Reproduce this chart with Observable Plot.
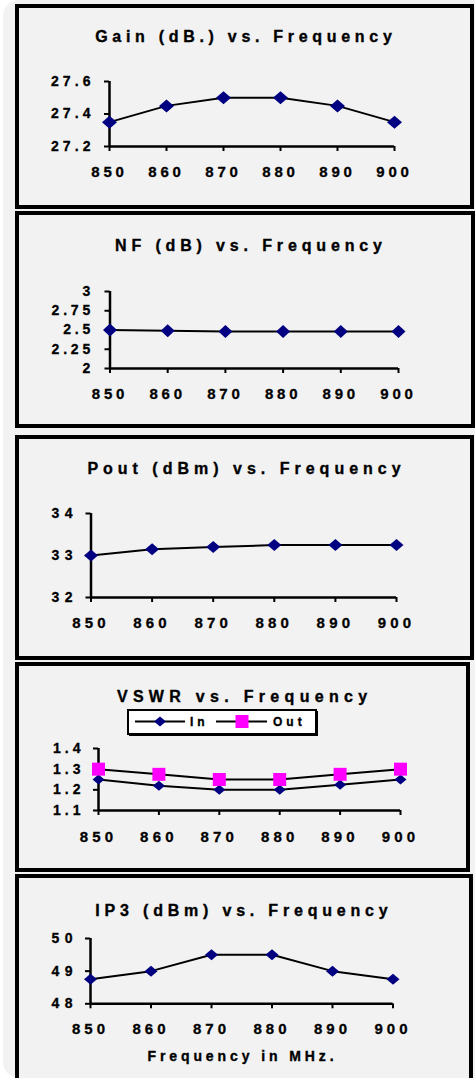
<!DOCTYPE html>
<html><head><meta charset="utf-8">
<script src="https://cdn.jsdelivr.net/npm/d3@7"></script>
<script src="https://cdn.jsdelivr.net/npm/@observablehq/plot@0.6"></script>
<style>
html,body{margin:0;padding:0;background:#fff;width:475px;height:1078px;overflow:hidden;font-family:"Liberation Sans",Arial,sans-serif;}
#page{position:relative;width:475px;height:1078px;overflow:hidden;}
#bg{position:absolute;left:3px;top:0;width:520px;height:1078px;border-radius:16px;background:#f2f2f2;}
.panel{position:absolute;box-sizing:border-box;border:4px solid #000;background:#f2f2f2;}
.title{position:absolute;text-align:center;font-weight:bold;color:#000;white-space:nowrap;-webkit-text-stroke:0.35px #000;}
.chart{position:absolute;left:0;}
.chart text{stroke:#000;stroke-width:0.3px;}
</style>
</head><body><div id="page"><div id="bg"></div></div>
<script>
// ---- data ----
const freqs = [850, 860, 870, 880, 890, 900];
const gain = [27.35, 27.45, 27.5, 27.5, 27.45, 27.35];
const nf = [2.5, 2.49, 2.48, 2.48, 2.48, 2.48];
const pout = [33.0, 33.15, 33.2, 33.25, 33.25, 33.25];
const vswrIn = [1.25, 1.22, 1.2, 1.2, 1.225, 1.25];
const vswrOut = [1.3, 1.275, 1.25, 1.25, 1.275, 1.3];
const ip3 = [48.75, 49, 49.5, 49.5, 49, 48.75];

const gainTicks = [27.2, 27.4, 27.6];
const nfTicks = [2, 2.25, 2.5, 2.75, 3];
const poutTicks = [32, 33, 34];
const vswrTicks = [1.1, 1.2, 1.3, 1.4];
const ip3Ticks = [48, 49, 50];

const titles = ["Gain (dB.) vs. Frequency", "NF (dB) vs. Frequency", "Pout (dBm) vs. Frequency", "VSWR vs. Frequency", "IP3 (dBm) vs. Frequency"];
const xTitle = "Frequency in MHz.";
const legendLabels = ["In", "Out"];

const NAVY = "#000080", MAGENTA = "#ff00ff";
const FONT = '"Liberation Sans", Arial, sans-serif';

const page = document.getElementById("page");

const diamond = (w, h) => ({draw(ctx) { ctx.moveTo(0, -h / 2); ctx.lineTo(w / 2, 0); ctx.lineTo(0, h / 2); ctx.lineTo(-w / 2, 0); ctx.closePath(); }});
const square = (s) => ({draw(ctx) { ctx.rect(-s / 2, -s / 2, s, s); }});

function panel(left, top, width, height) {
  const d = document.createElement("div");
  d.className = "panel";
  Object.assign(d.style, {left: left + "px", top: top + "px", width: width + "px", height: height + "px"});
  page.appendChild(d);
}

function text(str, cx, cy, fs, ls) {
  const d = document.createElement("div");
  d.className = "title";
  d.textContent = str;
  Object.assign(d.style, {left: (cx + ls / 2 - 250) + "px", width: "500px", top: (cy - 0.488 * fs) + "px",
    fontSize: fs + "px", lineHeight: fs + "px", letterSpacing: ls + "px"});
  page.appendChild(d);
}

function chart(o) {
  const svgTop = o.yTop - 22;
  const svgH = o.yBot - svgTop + 46;
  const rows = (vals) => freqs.map((f, i) => ({f, v: vals[i]}));
  const marks = [
    Plot.ruleX([850], {y1: o.yDomain[0], y2: o.yDomain[1], stroke: "#000", strokeWidth: 2.5}),
    Plot.ruleY([o.yDomain[0]], {x1: 850, x2: 900, stroke: "#000", strokeWidth: 2.5}),
    Plot.axisY({ticks: o.yTicks, tickSize: 5, tickPadding: o.yPad, strokeWidth: 2, label: null, tickFormat: d => String(d), fontSize: 14}),
    Plot.axisX({ticks: freqs, tickSize: 5, tickPadding: o.xPad, strokeWidth: 2, label: null, tickFormat: d => String(d), fontSize: 15})
  ];
  for (const s of o.series) {
    marks.push(Plot.line(rows(s.values), {x: "f", y: "v", stroke: "#000", strokeWidth: 2}));
    marks.push(Plot.dot(rows(s.values), {x: "f", y: "v", symbol: s.symbol, r: 5, fill: s.color, stroke: "none"}));
  }
  const svg = Plot.plot({
    width: 475, height: svgH,
    marginLeft: o.x0, marginRight: 475 - o.x1,
    marginTop: o.yTop - svgTop, marginBottom: svgTop + svgH - o.yBot,
    x: {domain: [850, 900]},
    y: {domain: o.yDomain},
    style: {background: "transparent", overflow: "visible", fontFamily: FONT, fontWeight: "bold", color: "#000"},
    marks
  });
  d3.select(svg).selectAll('g[aria-label="y-axis tick label"] text').style("letter-spacing", o.yLs + "px");
  d3.select(svg).selectAll('g[aria-label="x-axis tick label"] text').style("letter-spacing", o.xLs + "px");
  const wrap = document.createElement("div");
  wrap.className = "chart";
  wrap.style.top = svgTop + "px";
  wrap.appendChild(svg);
  page.appendChild(wrap);
}

// panels
panel(15, 4, 459, 205);
panel(15, 211, 460, 217);
panel(15, 435, 459, 225);
panel(15, 662, 455, 210);
panel(15, 874, 458, 230);

// titles
text(titles[0], 243.5, 37, 16, 4.7);
text(titles[1], 248.5, 246, 16, 4.85);
text(titles[2], 244, 469, 16, 5.0);
text(titles[3], 242, 697, 16, 5.3);
text(titles[4], 241.5, 911, 16, 4.8);
text(xTitle, 240.5, 1056, 14, 3.9);

chart({x0: 109, x1: 394, yTop: 81, yBot: 146, yDomain: [27.2, 27.6], yTicks: gainTicks, yPad: 9.9, xPad: 15, yLs: 4.1, xLs: 3.8,
  series: [{values: gain, symbol: diamond(15, 13), color: NAVY}]});
chart({x0: 109.5, x1: 398, yTop: 291, yBot: 368, yDomain: [2, 3], yTicks: nfTicks, yPad: 11, xPad: 14.5, yLs: 3.8, xLs: 3.8,
  series: [{values: nf, symbol: diamond(14, 13), color: NAVY}]});
chart({x0: 90.5, x1: 396, yTop: 513, yBot: 597, yDomain: [32, 34], yTicks: poutTicks, yPad: 8, xPad: 15, yLs: 5.5, xLs: 4.2,
  series: [{values: pout, symbol: diamond(14, 12), color: NAVY}]});
chart({x0: 98, x1: 400, yTop: 748, yBot: 810, yDomain: [1.1, 1.4], yTicks: vswrTicks, yPad: 9, xPad: 16, yLs: 4, xLs: 4.2,
  series: [{values: vswrIn, symbol: diamond(12, 10), color: NAVY}, {values: vswrOut, symbol: square(13), color: MAGENTA}]});
chart({x0: 90, x1: 392.5, yTop: 937.7, yBot: 1003, yDomain: [48, 50], yTicks: ip3Ticks, yPad: 7.5, xPad: 14.5, yLs: 5.5, xLs: 4,
  series: [{values: ip3, symbol: diamond(13, 11), color: NAVY}]});

// legend for VSWR
(function () {
  const L = 127, T = 709, W = 192, H = 28;
  const svg = d3.create("svg").attr("width", W).attr("height", H)
    .style("position", "absolute").style("left", L + "px").style("top", T + "px").style("overflow", "visible");
  svg.append("rect").attr("x", 2).attr("y", 2).attr("width", W - 3).attr("height", H - 3).attr("fill", "#000");
  svg.append("rect").attr("x", 1).attr("y", 1).attr("width", W - 4).attr("height", H - 4).attr("fill", "#fff").attr("stroke", "#000").attr("stroke-width", 2);
  const cy = 12.5;
  svg.append("line").attr("x1", 8).attr("x2", 58).attr("y1", cy).attr("y2", cy).attr("stroke", "#000").attr("stroke-width", 2);
  svg.append("path").attr("d", "M33," + (cy - 5) + "L39," + cy + "L33," + (cy + 5) + "L27," + cy + "Z").attr("fill", NAVY);
  svg.append("line").attr("x1", 89).attr("x2", 140).attr("y1", cy).attr("y2", cy).attr("stroke", "#000").attr("stroke-width", 2);
  svg.append("rect").attr("x", 115 - 6.5).attr("y", cy - 6.5).attr("width", 13).attr("height", 13).attr("fill", MAGENTA);
  const t = (str, x) => svg.append("text").attr("x", x).attr("y", cy + 4.3).text(str)
    .style("font-family", FONT).style("font-weight", "bold").style("font-size", "12px").style("letter-spacing", "4px")
    .style("stroke", "#000").style("stroke-width", "0.35px");
  t(legendLabels[0], 63);
  t(legendLabels[1], 146);
  page.appendChild(svg.node());
})();
</script>
</body></html>
